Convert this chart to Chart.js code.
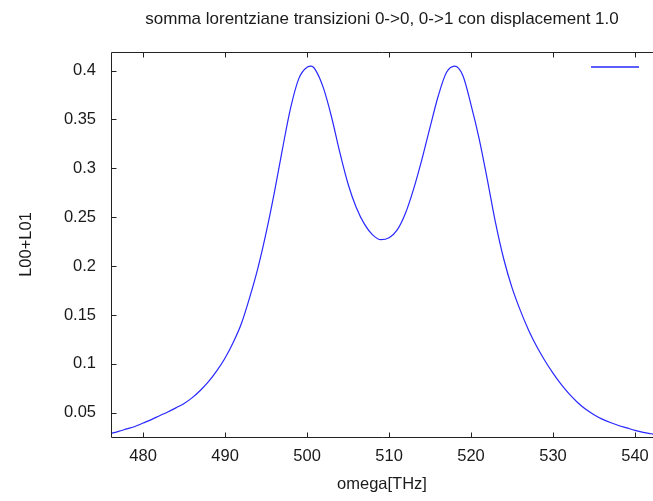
<!DOCTYPE html>
<html>
<head>
<meta charset="utf-8">
<script src="https://cdn.jsdelivr.net/npm/chart.js@4.4.0/dist/chart.umd.min.js"></script>
<style>
  html, body { margin: 0; padding: 0; background: #ffffff; overflow: hidden; }
  #wrap { width: 653px; height: 501px; position: relative; }
</style>
</head>
<body>
<div id="wrap"><canvas id="c" width="653" height="501"></canvas></div>
<script>
const chartTitle = 'somma lorentziane transizioni 0->0, 0->1 con displacement 1.0';
const xAxisTitle = 'omega[THz]';
const yAxisTitle = 'L00+L01';
const seriesLabel = '';

const omega = [476, 477, 478, 479, 480, 481, 482, 483, 484, 485, 486, 487, 488, 489, 490,
  491, 492, 493, 494, 495, 496, 497, 498, 499, 500, 500.5, 501, 502, 503, 504, 505, 506,
  507, 508, 509, 510, 511, 512, 513, 514, 515, 516, 517, 518, 519, 520, 521, 522, 523,
  524, 525, 526, 527, 528, 529, 530, 531, 532, 533, 534, 535, 536, 537, 538, 539, 540,
  541, 542, 542.3];
const L00L01 = [0.0287, 0.031, 0.0335, 0.036, 0.0395, 0.043, 0.047, 0.0508, 0.055, 0.0595,
  0.0655, 0.073, 0.082, 0.093, 0.106, 0.122, 0.1415, 0.168, 0.198, 0.234, 0.275, 0.320,
  0.362, 0.392, 0.4035, 0.4045, 0.401, 0.382, 0.352, 0.316, 0.284, 0.260, 0.243, 0.232,
  0.227, 0.229, 0.237, 0.254, 0.279, 0.309, 0.342, 0.374, 0.398, 0.4045, 0.395, 0.365,
  0.330, 0.288, 0.244, 0.207, 0.178, 0.155, 0.135, 0.118, 0.1035, 0.0905, 0.079, 0.069,
  0.0605, 0.0535, 0.048, 0.0435, 0.040, 0.037, 0.0345, 0.032, 0.030, 0.0285, 0.0281];

const xTickValues = [480, 490, 500, 510, 520, 530, 540];
const xTickLabels = ['480', '490', '500', '510', '520', '530', '540'];
const yTickValues = [0.05, 0.1, 0.15, 0.2, 0.25, 0.3, 0.35, 0.4];
const yTickLabels = ['0.05', '0.1', '0.15', '0.2', '0.25', '0.3', '0.35', '0.4'];

const xRange = [476.08, 542.2];
const yRange = [0.0252, 0.419];

const FONT = "'Liberation Sans', Arial, sans-serif";
const TEXT_COLOR = '#1a1a1a';
const LINE_COLOR = 'rgb(40,40,255)';

const points = omega.map((x, i) => ({ x: x, y: L00L01[i] }));

const framePlugin = {
  id: 'gnuplotFrame',
  afterDraw(chart) {
    const ctx = chart.ctx;
    const a = chart.chartArea;
    const xs = chart.scales.x, ys = chart.scales.y;
    ctx.save();
    ctx.strokeStyle = '#222222';
    ctx.lineWidth = 1;
    const L = Math.round(a.left) + 0.5, T = Math.round(a.top) + 0.5, B = Math.round(a.bottom) + 0.5, R = a.right + 2;
    ctx.beginPath();
    ctx.moveTo(R, T); ctx.lineTo(L, T); ctx.lineTo(L, B); ctx.lineTo(R, B);
    ctx.stroke();
    ctx.beginPath();
    xTickValues.forEach(v => {
      const px = Math.round(xs.getPixelForValue(v)) + 0.5;
      ctx.moveTo(px, B); ctx.lineTo(px, B - 5);
      ctx.moveTo(px, T); ctx.lineTo(px, T + 5);
    });
    yTickValues.forEach(v => {
      const py = Math.round(ys.getPixelForValue(v)) + 0.5;
      ctx.moveTo(L, py); ctx.lineTo(L + 5, py);
    });
    ctx.stroke();

    // legend sample line (empty label)
    ctx.strokeStyle = LINE_COLOR;
    ctx.lineWidth = 1.3;
    ctx.beginPath();
    ctx.moveTo(591, 67); ctx.lineTo(639, 67);
    ctx.stroke();

    // texts
    ctx.fillStyle = TEXT_COLOR;
    ctx.textAlign = 'center';
    ctx.textBaseline = 'middle';
    ctx.font = '17px ' + FONT;
    ctx.fillText(chartTitle, 382, 19);
    ctx.font = '16.5px ' + FONT;
    ctx.fillText(xAxisTitle, 382, 484);
    ctx.translate(26, (a.top + a.bottom) / 2);
    ctx.rotate(-Math.PI / 2);
    ctx.fillText(yAxisTitle, 0, 0);
    ctx.restore();
  }
};

new Chart(document.getElementById('c'), {
  type: 'line',
  data: {
    datasets: [{
      label: seriesLabel,
      data: points,
      borderColor: LINE_COLOR,
      borderWidth: 1.2,
      pointRadius: 0,
      fill: false,
      cubicInterpolationMode: 'monotone'
    }]
  },
  options: {
    responsive: false,
    animation: false,
    devicePixelRatio: 1,
    layout: { padding: { top: 52, left: 0, right: 0, bottom: 0 } },
    plugins: {
      legend: { display: false },
      title: { display: false },
      tooltip: { enabled: false }
    },
    scales: {
      x: {
        type: 'linear',
        min: xRange[0],
        max: xRange[1],
        grid: { display: false, drawTicks: false },
        border: { display: false },
        afterFit(scale) { scale.height = 64; scale.paddingLeft = 0; scale.paddingRight = 0; },
        afterBuildTicks(scale) { scale.ticks = xTickValues.map(v => ({ value: v })); },
        ticks: {
          padding: 10,
          color: TEXT_COLOR,
          font: { family: FONT, size: 16.5 },
          maxRotation: 0,
          autoSkip: false,
          callback: (v) => { const i = xTickValues.indexOf(v); return i >= 0 ? xTickLabels[i] : ''; }
        }
      },
      y: {
        type: 'linear',
        min: yRange[0],
        max: yRange[1],
        grid: { display: false, drawTicks: false },
        border: { display: false },
        afterFit(scale) { scale.width = 111; scale.paddingTop = 0; scale.paddingBottom = 0; },
        afterBuildTicks(scale) { scale.ticks = yTickValues.map(v => ({ value: v })); },
        ticks: {
          padding: 15,
          color: TEXT_COLOR,
          font: { family: FONT, size: 16.5 },
          autoSkip: false,
          callback: (v) => { const i = yTickValues.findIndex(t => Math.abs(t - v) < 1e-9); return i >= 0 ? yTickLabels[i] : ''; }
        }
      }
    }
  },
  plugins: [framePlugin]
});
</script>
</body>
</html>
